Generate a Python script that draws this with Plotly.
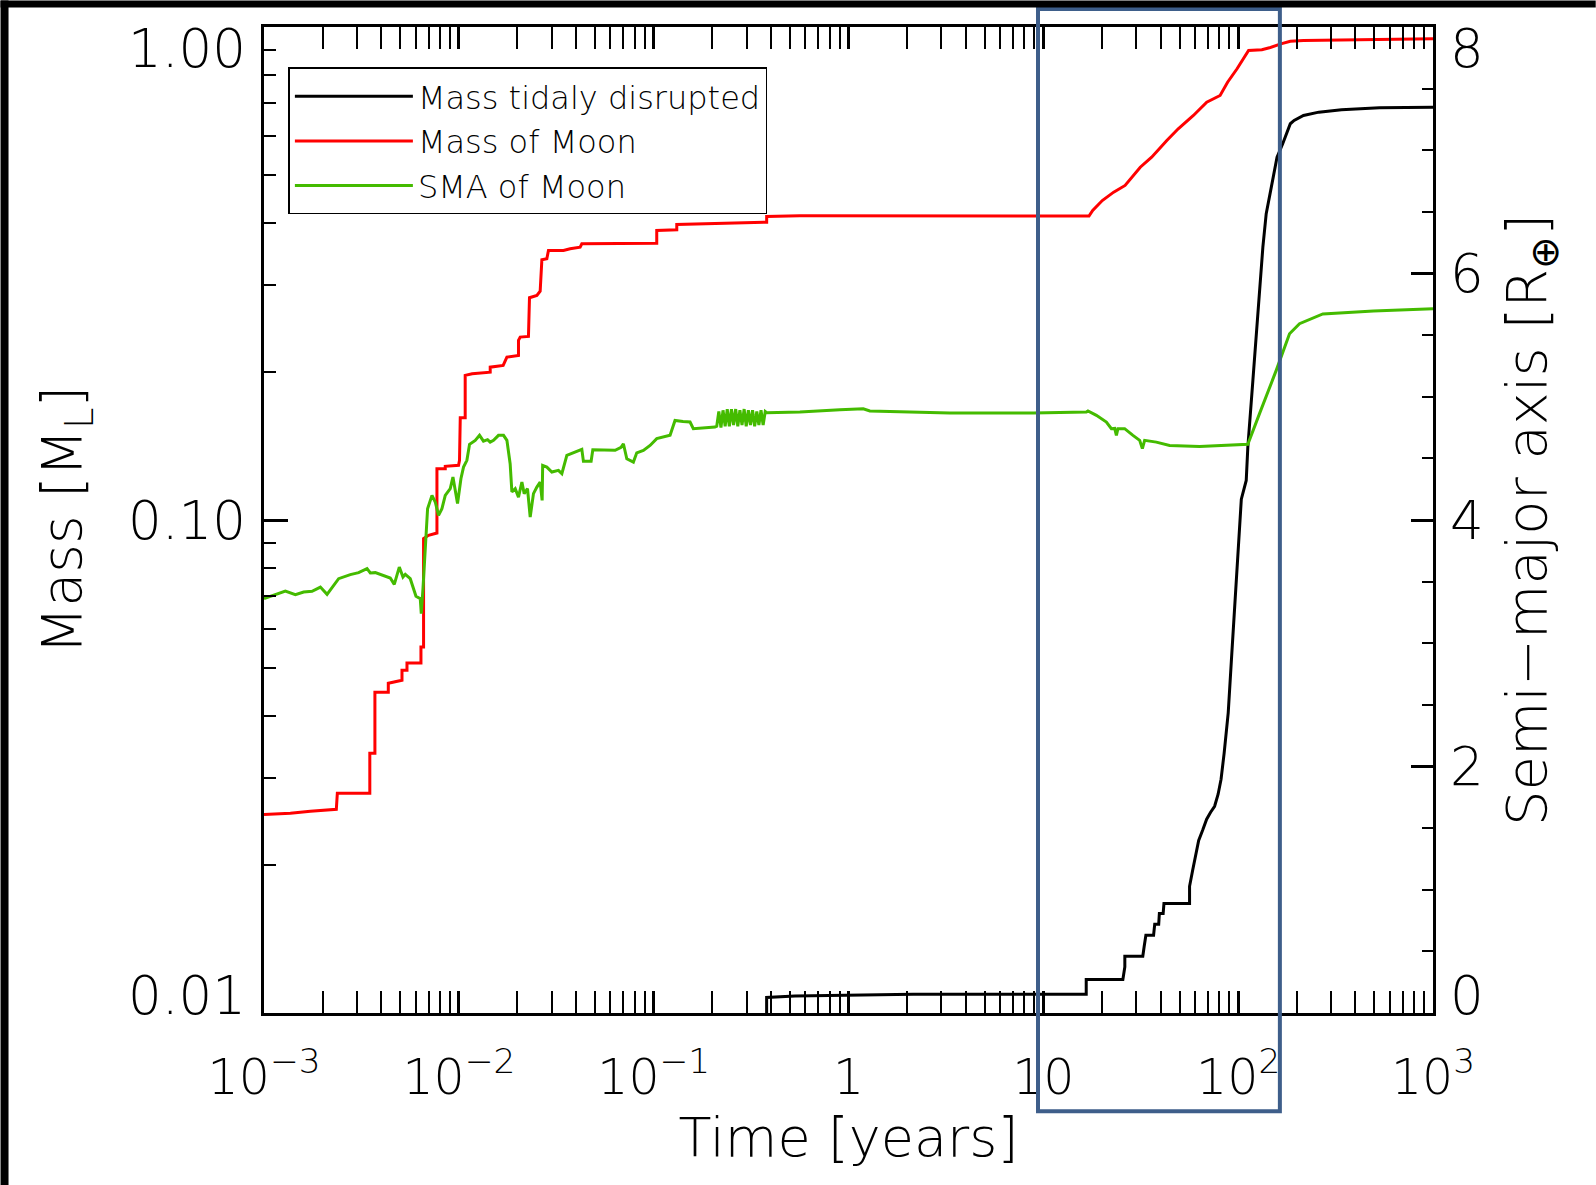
import plotly.graph_objects as go

# ---------------- data ----------------
black_t = [0.380, 0.380, 0.531, 1.0, 2.15, 16.6, 16.6, 25.6, 26.2, 26.2, 32.4, 32.9, 33.6, 36.8,
           37.3, 39.1, 39.4, 41.2, 41.6, 56.3, 56.3, 58.4, 60.5, 62.7, 65.7, 68.9, 72.2, 75.7,
           78.9, 81.7, 84.7, 88.9, 92.2, 95.5, 100.2, 103.8, 110.0, 112.1, 119.0, 126.2, 133.9,
           139.3, 150.7, 158.3, 169.3, 177.1, 185.2, 193.7, 216.4, 259.4, 339.1, 531.1, 1000.0]
black_m = [0.005, 0.01075, 0.01083, 0.01087, 0.01092, 0.01092, 0.01169, 0.01169, 0.01240, 0.01303,
           0.01303, 0.01361, 0.01438, 0.01438, 0.01514, 0.01514, 0.01591, 0.01591, 0.01667, 0.01667,
           0.01807, 0.01948, 0.02089, 0.02240, 0.02348, 0.02472, 0.02554, 0.02626, 0.02778, 0.02979,
           0.03363, 0.04064, 0.05156, 0.06537, 0.08690, 0.1102, 0.1203, 0.1405, 0.1919, 0.2621,
           0.3577, 0.4181, 0.4884, 0.5445, 0.5797, 0.6073, 0.6364, 0.6463, 0.6616, 0.6719, 0.6795,
           0.6859, 0.6878]

red_t = [0.001, 0.001366, 0.001730, 0.002351, 0.002379, 0.003492, 0.003492, 0.003709, 0.003709,
         0.004345, 0.004345, 0.005108, 0.005108, 0.005418, 0.005418, 0.006391, 0.006391, 0.006592,
         0.006592, 0.006990, 0.007720, 0.007720, 0.008518, 0.008518, 0.009966, 0.01008, 0.01017,
         0.01078, 0.01078, 0.01171, 0.01449, 0.01449, 0.01689, 0.01765, 0.02024, 0.02024, 0.02065,
         0.02277, 0.02305, 0.02515, 0.02615, 0.02668, 0.02829, 0.02884, 0.03443, 0.03726, 0.04194,
         0.04278, 0.1037, 0.1037, 0.1314, 0.1314, 0.3802, 0.3802, 0.5632, 17.15, 17.92, 20.07,
         22.96, 26.28, 31.44, 35.97, 43.03, 49.24, 58.92, 68.96, 80.78, 88.23, 98.7, 113.1, 132.3,
         144.7, 165.6, 185.2, 216.4, 339.1, 1000.0]
red_m = [0.02526, 0.02542, 0.02566, 0.02590, 0.02790, 0.02790, 0.03363, 0.03363, 0.04472,
         0.04472, 0.04664, 0.04729, 0.04956, 0.04956, 0.05128, 0.05128, 0.05526, 0.05526,
         0.09167, 0.09309, 0.09408, 0.1271, 0.1271, 0.1285, 0.1291, 0.1321, 0.1612,
         0.1612, 0.1965, 0.1980, 0.1995, 0.2042, 0.2059, 0.2140, 0.2157, 0.2314, 0.2350,
         0.2357, 0.2824, 0.2854, 0.2912, 0.3372, 0.3388, 0.3522, 0.3522, 0.3550, 0.3577,
         0.3634, 0.3644, 0.3867, 0.3880, 0.3977, 0.4019, 0.4128, 0.4140, 0.4135, 0.4245, 0.4446,
         0.4624, 0.4771, 0.5196, 0.5445, 0.5886, 0.6217, 0.6616, 0.7038, 0.7263, 0.7728, 0.8227,
         0.8961, 0.8990, 0.9074, 0.9245, 0.9359, 0.9389, 0.9419, 0.9464]

green_t = [0.001, 0.001121, 0.001287, 0.001449, 0.001598, 0.001765, 0.001947, 0.002107, 0.002416,
           0.002773, 0.003059, 0.003379, 0.003513, 0.003726, 0.004447, 0.004663, 0.004948,
           0.005168, 0.005311, 0.005632, 0.006026, 0.006340, 0.006415, 0.006545, 0.006806,
           0.006912, 0.007281, 0.007568, 0.007868, 0.008189, 0.008518, 0.009035, 0.009327,
           0.009583, 0.009847, 0.01025, 0.01057, 0.01100, 0.01135, 0.01214, 0.01277, 0.01338,
           0.01404, 0.01449, 0.01507, 0.01598, 0.01696, 0.01765, 0.01834, 0.01872, 0.01947,
           0.02024, 0.02107, 0.02165, 0.02251, 0.02324, 0.02416, 0.02515, 0.02615, 0.02677,
           0.02693, 0.02829, 0.03002, 0.03245, 0.03379, 0.03584, 0.03952, 0.04278, 0.04360,
           0.04775, 0.04872, 0.05522, 0.06341, 0.06804, 0.06993, 0.07280, 0.07868, 0.08189,
           0.08855, 0.09583, 0.1037, 0.1214, 0.1287, 0.1415, 0.1537, 0.1598, 0.1834, 0.2065,
           0.2107, 0.2160, 0.2215, 0.2270, 0.2328, 0.2386, 0.2446, 0.2508, 0.2571, 0.2636,
           0.2703, 0.2771, 0.2841, 0.2913, 0.2986, 0.3062, 0.3139, 0.3218, 0.3299, 0.3383,
           0.3468, 0.3556, 0.3646, 0.3738, 0.3802,
           0.5632, 0.9035, 1.190, 1.287, 1.986, 3.311, 8.857, 16.63, 16.95, 18.72, 21.07, 22.35,
           23.24, 23.71, 24.15, 26.15, 28.84, 31.22, 32.23, 33.11, 38.02, 44.48, 63.41, 93.92,
           112.1, 128.7, 156.8, 183.5, 206.5, 272.0, 494.9, 1000.0]
green_sma = [3.362, 3.389, 3.424, 3.394, 3.416, 3.421, 3.456, 3.397, 3.524,
             3.557, 3.573, 3.605, 3.570, 3.573, 3.529, 3.478, 3.618,
             3.537, 3.559, 3.524, 3.381, 3.362, 3.240, 3.443, 3.916,
             4.092, 4.200, 4.146, 4.038, 4.092, 4.200, 4.254, 4.348,
             4.254, 4.133, 4.335, 4.429, 4.484, 4.614, 4.646, 4.687, 4.640,
             4.652, 4.632, 4.646, 4.687, 4.687, 4.646, 4.457, 4.227, 4.254,
             4.186, 4.308, 4.214, 4.254, 4.024, 4.214, 4.267, 4.308, 4.159,
             4.443, 4.429, 4.389, 4.403, 4.376, 4.524, 4.551, 4.573, 4.476,
             4.476, 4.569, 4.565, 4.565, 4.589, 4.619, 4.497, 4.470, 4.545,
             4.565, 4.605, 4.660, 4.687, 4.808, 4.800, 4.795, 4.741, 4.747, 4.754,
             4.760, 4.880, 4.750, 4.890, 4.760, 4.900, 4.760, 4.900, 4.770, 4.900,
             4.760, 4.890, 4.770, 4.900, 4.760, 4.890, 4.770, 4.890, 4.760, 4.880,
             4.770, 4.890, 4.770, 4.880, 4.871,
             4.876, 4.895, 4.903, 4.885, 4.876, 4.869, 4.868, 4.876, 4.885, 4.849, 4.795, 4.741,
             4.743, 4.687, 4.741, 4.741, 4.687, 4.646, 4.579, 4.646, 4.632, 4.605, 4.597, 4.605,
             4.614, 4.863, 5.214, 5.511, 5.593, 5.672, 5.696, 5.713]

legend_names = ["Mass tidaly disrupted", "Mass of Moon", "SMA of Moon"]
time_tickvals = [1e-3, 1e-2, 1e-1, 1.0, 10.0, 1e2, 1e3]
time_ticktext = ["10<sup>−3</sup>", "10<sup>−2</sup>", "10<sup>−1</sup>", "1", "10",
                 "10<sup>2</sup>", "10<sup>3</sup>"]
mass_ticks = [0.01, 0.1, 1.0]
# label anchor positions (the original plot keeps end labels inside the frame)
mass_label_pos = [0.01084, 0.1, 0.905]
mass_ticktext = ["0.01", "0.10", "1.00"]
sma_ticks = [0, 2, 4, 6, 8]
sma_label_pos = [0.14, 2, 4, 6, 7.83]
sma_ticktext = ["0", "2", "4", "6", "8"]
sma_range = [0, 8]

# ---------------- figure ----------------
FONT = "DejaVu Sans"
WEIGHT = 200
W, H = 1596, 1185
L, R, T, B = 263.6, 162.8, 26.5, 172.2
PW, PH = W - L - R, H - T - B


def px_to_paper_x(px):
    return (px - L) / PW


def px_to_paper_y(py):
    return (H - B - py) / PH


x_minor = [m * 10.0 ** e for e in range(-3, 3) for m in range(2, 10)]
y_minor = [m * 10.0 ** e for e in range(-2, 0) for m in range(2, 10)]

fig = go.Figure()
fig.add_trace(go.Scatter(x=black_t, y=black_m, mode="lines", name=legend_names[0],
                         line=dict(color="black", width=3)))
fig.add_trace(go.Scatter(x=red_t, y=red_m, mode="lines", name=legend_names[1],
                         line=dict(color="#ff0000", width=3)))
fig.add_trace(go.Scatter(x=green_t, y=green_sma, mode="lines", name=legend_names[2],
                         line=dict(color="#44bb00", width=3), yaxis="y2"))
# empty carriers so the label-only axes (y3: mass labels, y4: SMA labels) are laid out
fig.add_trace(go.Scatter(x=[], y=[], mode="lines", yaxis="y3", showlegend=False,
                         hoverinfo="skip"))
fig.add_trace(go.Scatter(x=[], y=[], mode="lines", yaxis="y4", showlegend=False,
                         hoverinfo="skip"))

axis_common = dict(showline=True, linecolor="black", linewidth=3, ticks="inside",
                   tickcolor="black", tickwidth=2.5, showgrid=False, zeroline=False)
label_axis = dict(showline=False, ticks="", showgrid=False, zeroline=False,
                  overlaying="y", tickmode="array")


def tfont(size):
    return dict(size=size, family=FONT, weight=WEIGHT)


fig.update_layout(
    width=W, height=H,
    margin=dict(l=L, r=R, t=T, b=B, autoexpand=False),
    paper_bgcolor="white", plot_bgcolor="white",
    font=dict(family=FONT, size=49, color="black", weight=WEIGHT),
    showlegend=True,
    legend=dict(x=px_to_paper_x(288), y=px_to_paper_y(67), xanchor="left", yanchor="top",
                bordercolor="black", borderwidth=1.5, bgcolor="white",
                font=dict(size=32, family=FONT, weight=WEIGHT), tracegroupgap=0,
                itemwidth=118),
    xaxis=dict(type="log", range=[-3, 3], tickmode="array", tickvals=time_tickvals,
               ticktext=time_ticktext, mirror="allticks", ticklen=22, ticklabelstandoff=19,
               tickfont=tfont(49),
               minor=dict(tickmode="array", tickvals=x_minor, ticks="inside", ticklen=11,
                          tickwidth=2, tickcolor="black", showgrid=False),
               title=dict(text="Time [years]", font=tfont(54), standoff=12),
               **axis_common),
    yaxis=dict(type="log", range=[-2, 0], tickmode="array", tickvals=mass_ticks,
               showticklabels=False, ticklen=24,
               minor=dict(tickmode="array", tickvals=y_minor, ticks="inside", ticklen=12,
                          tickwidth=2, tickcolor="black", showgrid=False),
               **axis_common),
    yaxis3=dict(type="log", range=[-2, 0], side="left", tickvals=mass_label_pos,
                ticktext=mass_ticktext, ticklabelstandoff=17, tickfont=tfont(53),
                title=dict(text="Mass [M<sub>L</sub>]", font=tfont(55), standoff=28),
                **label_axis),
    yaxis2=dict(overlaying="y", side="right", range=sma_range, tickmode="array",
                tickvals=sma_ticks, showticklabels=False, ticklen=22,
                minor=dict(dtick=0.5, ticks="inside", ticklen=11, tickwidth=2,
                           tickcolor="black", showgrid=False),
                **axis_common),
    yaxis4=dict(range=sma_range, side="right", tickvals=sma_label_pos, ticktext=sma_ticktext,
                ticklabelstandoff=16, tickfont=tfont(53),
                title=dict(text="Semi−major axis [R<sub>⊕</sub>]", font=tfont(56),
                           standoff=24),
                **label_axis),
    shapes=[
        dict(type="rect", xref="paper", yref="paper",
             x0=px_to_paper_x(1038), x1=px_to_paper_x(1280),
             y0=px_to_paper_y(1111), y1=px_to_paper_y(8.5),
             line=dict(color="#3e5e8a", width=4), fillcolor="rgba(0,0,0,0)", layer="above"),
        dict(type="rect", xref="paper", yref="paper",
             x0=px_to_paper_x(0), x1=px_to_paper_x(W),
             y0=px_to_paper_y(7), y1=px_to_paper_y(0),
             line=dict(width=0), fillcolor="black", layer="above"),
        dict(type="rect", xref="paper", yref="paper",
             x0=px_to_paper_x(0), x1=px_to_paper_x(8),
             y0=px_to_paper_y(H), y1=px_to_paper_y(0),
             line=dict(width=0), fillcolor="black", layer="above"),
    ],
)

fig.write_html("out.html")
